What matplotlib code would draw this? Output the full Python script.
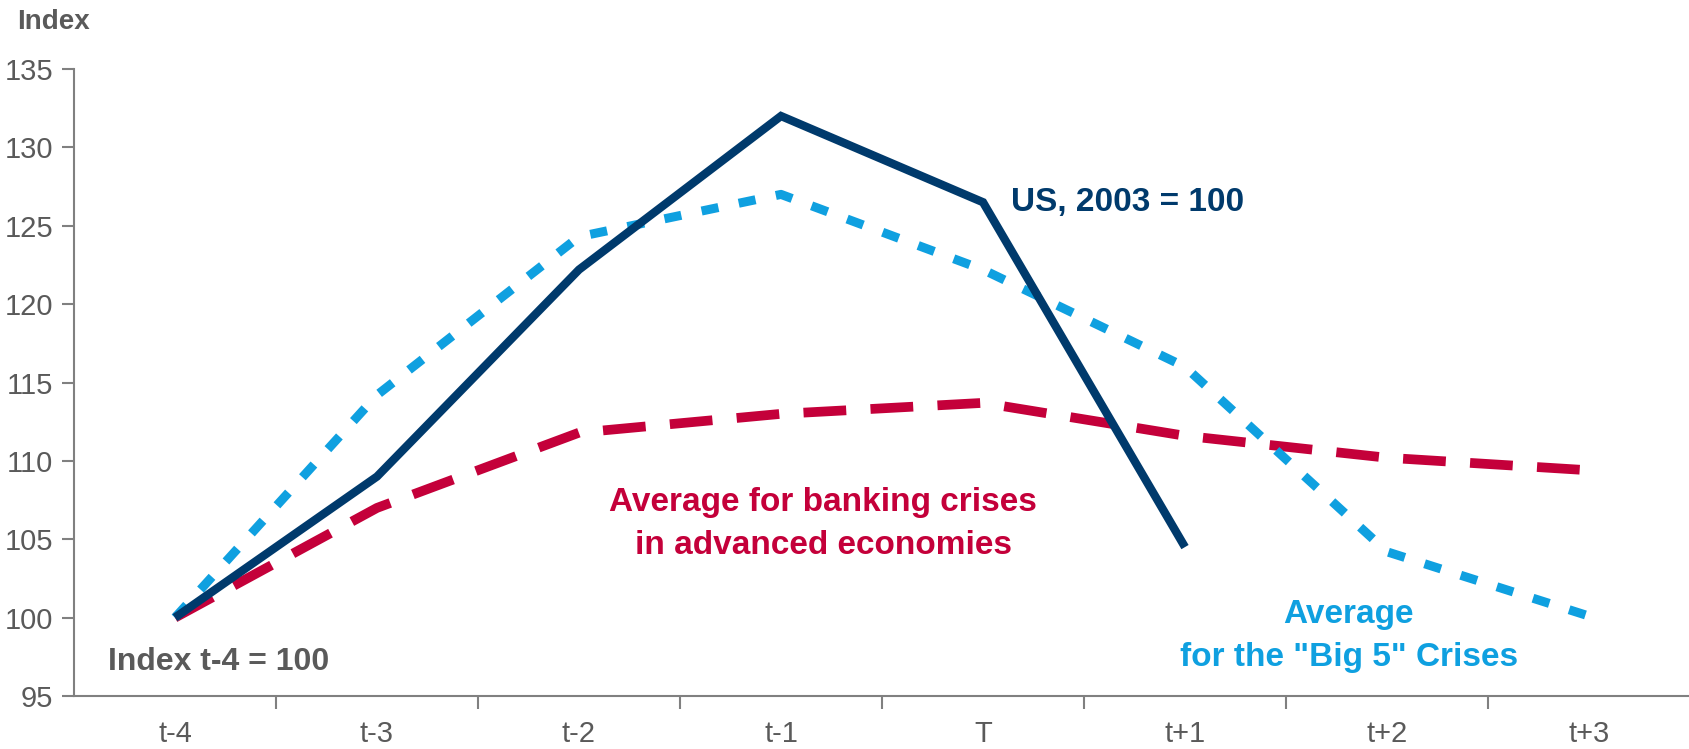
import matplotlib
matplotlib.use('Agg')
import matplotlib.pyplot as plt
import numpy as np

plt.rcParams['font.family'] = ['Liberation Sans', 'DejaVu Sans']

# periods around the crisis year T
periods = ['t-4', 't-3', 't-2', 't-1', 'T', 't+1', 't+2', 't+3']

# US house prices, 2003 = 100 (ends at t+1)
us = [100.0, 109.0, 122.2, 132.0, 126.5, 104.5]
# average of the "Big 5" crises, index t-4 = 100
big5 = [100.0, 114.2, 124.3, 127.0, 122.2, 116.0, 104.2, 100.1]
# average banking crises in advanced economies, index t-4 = 100
banking = [100.0, 107.0, 111.8, 113.0, 113.7, 111.6, 110.2, 109.4]

navy = '#003a6c'
cyan = '#0fa0e0'
red = '#c4003a'
grey = '#5a5a5a'

fig = plt.figure(figsize=(16.9, 7.49), dpi=100)
ax = fig.add_axes([74/1690, 53/749, 1 - 74/1690, (696 - 69)/749])

x = np.arange(len(periods))

ax.plot(x[:len(banking)], banking, color=red, lw=7, dashes=(4.4, 2.5),
        dash_capstyle='butt', dash_joinstyle='round')
ax.plot(x[:len(big5)], big5, color=cyan, lw=6.5, dashes=(1.9, 2.3),
        dash_capstyle='butt')
ax.plot(x[:len(us)], us, color=navy, lw=6, solid_joinstyle='miter',
        solid_capstyle='butt')

ax.set_xlim(-0.5, 7.5)
ax.set_ylim(95, 135)
ax.set_yticks(np.arange(95, 136, 5))

# ticks sit on the category boundaries, labels in the middle
ax.set_xticks(np.arange(0.5, 7.5, 1))
ax.set_xticklabels([])
ax.set_xticks(x, minor=True)
ax.set_xticklabels(periods, minor=True)
ax.tick_params(axis='x', which='major', length=9, width=1.5, color='#808080')
ax.tick_params(axis='x', which='minor', length=0, pad=17, labelsize=21,
               labelcolor=grey)
ax.tick_params(axis='y', length=9, width=1.5, color='#808080', pad=6,
               labelsize=21, labelcolor=grey)

for s in ['top', 'right']:
    ax.spines[s].set_visible(False)
for s in ['left', 'bottom']:
    ax.spines[s].set_color('#808080')
    ax.spines[s].set_linewidth(1.5)

fig.text(17/1690, 1 - 22/749, 'Index', fontsize=20, fontweight='bold',
         color=grey, va='center', ha='left')
fig.text(108/1690, 1 - 662/749, 'Index t-4 = 100', fontsize=23,
         fontweight='bold', color=grey, va='center', ha='left')

kw = dict(fontsize=24, fontweight='bold', va='center', linespacing=1.5)
ax.text(4.14, 126.5, 'US, 2003 = 100', color=navy, ha='left', **kw)
ax.text(3.21, 106.0, 'Average for banking crises\nin advanced economies',
        color=red, ha='center', **kw)
ax.text(5.81, 98.8, 'Average\nfor the "Big 5" Crises', color=cyan,
        ha='center', **kw)

fig.savefig('out.png', dpi=100)
